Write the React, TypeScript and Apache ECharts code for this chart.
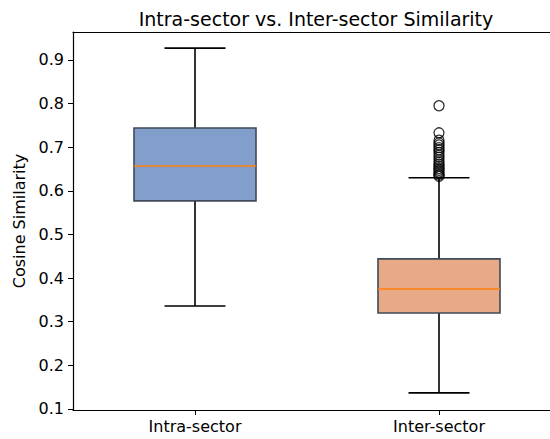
import React, { useEffect, useRef } from "react";
import * as echarts from "echarts";

const categories = ["Intra-sector", "Inter-sector"];
// [min whisker, Q1, median, Q3, max whisker]
const boxStats = [
  [0.336, 0.577, 0.657, 0.744, 0.927],
  [0.137, 0.32, 0.375, 0.444, 0.63],
];
const boxColors = ["#819fca", "#e8a986"];
const interOutliers = [
  0.795, 0.733, 0.716, 0.71, 0.705, 0.699, 0.694, 0.688, 0.682, 0.677, 0.671,
  0.666, 0.661, 0.656, 0.651, 0.647, 0.643, 0.639, 0.636, 0.633,
];
const yTicks = [0.1, 0.2, 0.3, 0.4, 0.5, 0.6, 0.7, 0.8, 0.9];
const xPositions = [1, 2];

export default function App() {
  const ref = useRef<HTMLDivElement>(null);
  useEffect(() => {
    if (!ref.current) return;
    const chart = echarts.init(ref.current, null, { renderer: "svg" });
    const font = "DejaVu Sans";
    const xMin = 0.5;
    const xMax = 0.5 + 477 / 244;
    chart.setOption({
      animation: false,
      title: {
        text: "Intra-sector vs. Inter-sector Similarity",
        left: 311,
        top: 4,
        textAlign: "center",
        textStyle: { fontFamily: font, fontSize: 19, fontWeight: "normal", color: "#000" },
      },
      grid: { left: 73, top: 32, right: 0, height: 378 },
      xAxis: [
        {
          type: "value",
          min: xMin,
          max: xMax,
          axisLine: { show: true, onZero: false, lineStyle: { color: "#000", width: 1.2 } },
          axisTick: { show: true, inside: false, length: 5, customValues: xPositions, lineStyle: { color: "#000" } },
          axisLabel: {
            fontFamily: font,
            fontSize: 16,
            color: "#000",
            margin: 8,
            customValues: xPositions,
            formatter: (v: number) => categories[Math.round(v) - 1] ?? "",
          },
          splitLine: { show: false },
        },
        {
          type: "value",
          min: xMin,
          max: xMax,
          position: "top",
          axisLine: { show: true, onZero: false, lineStyle: { color: "#000", width: 1.2 } },
          axisTick: { show: false },
          axisLabel: { show: false },
          splitLine: { show: false },
        },
      ],
      yAxis: {
        type: "value",
        min: 0.0977,
        max: 0.964,
        name: "Cosine Similarity",
        nameLocation: "middle",
        nameGap: 45,
        nameTextStyle: { fontFamily: font, fontSize: 16, color: "#000" },
        axisLine: { show: true, onZero: false, lineStyle: { color: "#000", width: 1.2 } },
        axisTick: { show: true, inside: false, length: 5, customValues: yTicks, lineStyle: { color: "#000" } },
        axisLabel: {
          fontFamily: font,
          fontSize: 16,
          color: "#000",
          margin: 9,
          customValues: yTicks,
          formatter: (v: number) => v.toFixed(1),
        },
        splitLine: { show: false },
      },
      series: [
        {
          type: "custom",
          data: boxStats.map((s, i) => [xPositions[i], ...s]),
          encode: { x: 0, y: [1, 2, 3, 4, 5] },
          renderItem: (params: any, api: any) => {
            const xv = api.value(0);
            const idx = params.dataIndex;
            const lo = api.coord([xv, api.value(1)]);
            const q1 = api.coord([xv, api.value(2)]);
            const med = api.coord([xv, api.value(3)]);
            const q3 = api.coord([xv, api.value(4)]);
            const hi = api.coord([xv, api.value(5)]);
            const bw = api.size([0.5, 0])[0];
            const cw = api.size([0.25, 0])[0];
            const cx = lo[0];
            const wStyle = { stroke: "#000", lineWidth: 1.6 };
            return {
              type: "group",
              children: [
                { type: "line", shape: { x1: cx, y1: q3[1], x2: cx, y2: hi[1] }, style: wStyle },
                { type: "line", shape: { x1: cx, y1: q1[1], x2: cx, y2: lo[1] }, style: wStyle },
                { type: "line", shape: { x1: cx - cw / 2, y1: hi[1], x2: cx + cw / 2, y2: hi[1] }, style: wStyle },
                { type: "line", shape: { x1: cx - cw / 2, y1: lo[1], x2: cx + cw / 2, y2: lo[1] }, style: wStyle },
                {
                  type: "rect",
                  shape: { x: cx - bw / 2, y: q3[1], width: bw, height: q1[1] - q3[1] },
                  style: { fill: boxColors[idx], stroke: "#3f4a5a", lineWidth: 1.6 },
                },
                {
                  type: "line",
                  shape: { x1: cx - bw / 2, y1: med[1], x2: cx + bw / 2, y2: med[1] },
                  style: { stroke: "#ff7f0e", lineWidth: 1.6 },
                },
              ],
            };
          },
          z: 2,
        },
        {
          type: "scatter",
          data: interOutliers.map((v) => [xPositions[1], v]),
          symbol: "circle",
          symbolSize: 10,
          itemStyle: { color: "rgba(255,255,255,0)", borderColor: "#000", borderWidth: 1.3 },
          z: 3,
        },
      ],
    });
    return () => chart.dispose();
  }, []);
  return <div ref={ref} style={{ width: 550, height: 439, position: "absolute", left: 0, top: 0 }} />;
}
